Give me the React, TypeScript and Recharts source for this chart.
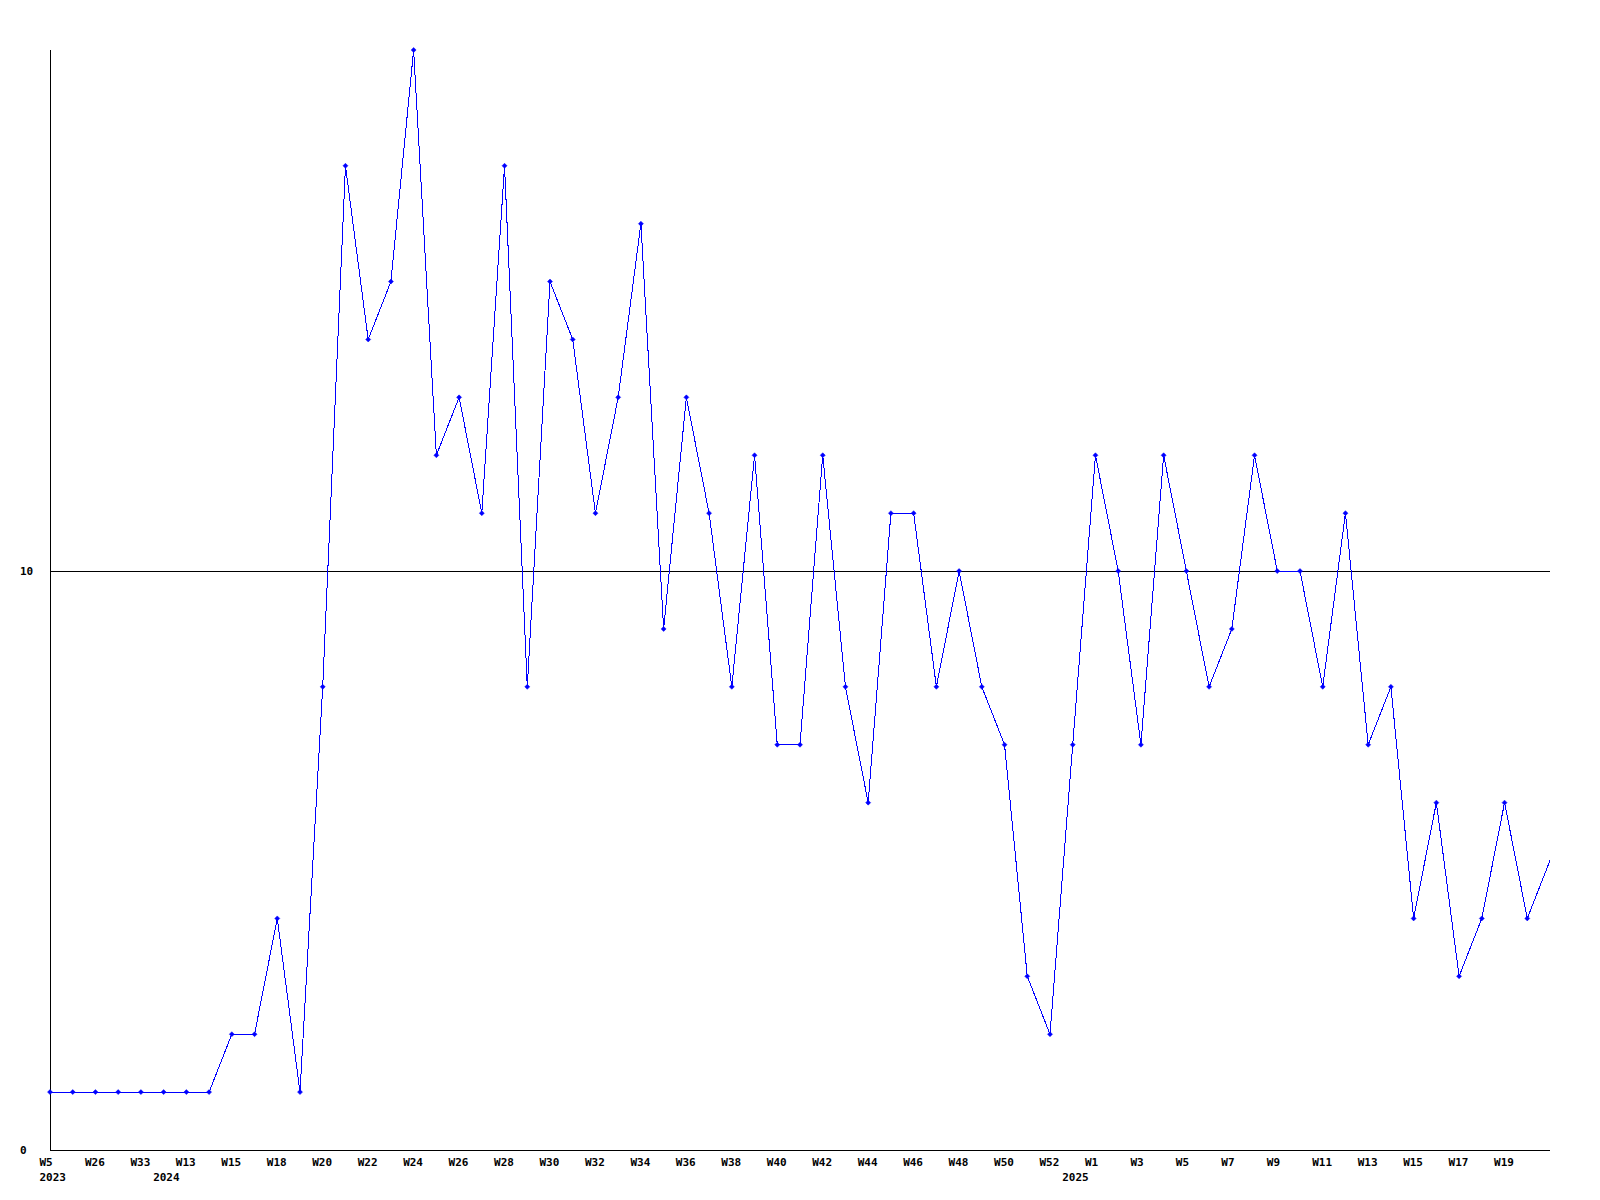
import React from 'react';
import { LineChart, Line, XAxis, YAxis, ReferenceLine } from 'recharts';

const weeks = [
  'W5', 'W20', 'W26', 'W30', 'W33', 'W1', 'W13', 'W14', 'W15', 'W16', 'W18', 'W19',
  'W20', 'W21', 'W22', 'W23', 'W24', 'W25', 'W26', 'W27', 'W28', 'W29', 'W30', 'W31',
  'W32', 'W33', 'W34', 'W35', 'W36', 'W37', 'W38', 'W39', 'W40', 'W41', 'W42', 'W43',
  'W44', 'W45', 'W46', 'W47', 'W48', 'W49', 'W50', 'W51', 'W52', 'W53', 'W1', 'W2',
  'W3', 'W4', 'W5', 'W6', 'W7', 'W8', 'W9', 'W10', 'W11', 'W12', 'W13', 'W14', 'W15',
  'W16', 'W17', 'W18', 'W19', 'W20', 'W21'
];

// year caption shown under the first week of each year
const years: Record<number, string> = { 0: '2023', 5: '2024', 45: '2025' };

const values = [
  1, 1, 1, 1, 1, 1, 1, 1, 2, 2, 4, 1, 8, 17, 14, 15, 19, 12, 13, 11,
  17, 8, 15, 14, 11, 13, 16, 9, 13, 11, 8, 12, 7, 7, 12, 8, 6, 11, 11, 8,
  10, 8, 7, 3, 2, 7, 12, 10, 7, 12, 10, 8, 9, 12, 10, 10, 8, 11, 7, 8,
  4, 6, 3, 4, 6, 4, 5
];

const yTicks = [0, 10];

const data = values.map((v, i) => ({ idx: i, value: v }));

const FONT = '"DejaVu Sans Mono", monospace';

const WeekTick = (props: any) => {
  const { x, y, payload } = props;
  const i = payload?.index ?? props.index;
  if (i === values.length - 1) return null;
  return (
    <g>
      {i % 2 === 0 && (
        <text x={x - 10.5} y={y + 16} fontFamily={FONT} fontWeight="bold" fontSize={11} fill="#000" textAnchor="start">
          {weeks[i]}
        </text>
      )}
      {years[i] && (
        <text x={x - 10.5} y={y + 31} fontFamily={FONT} fontWeight="bold" fontSize={11} fill="#000" textAnchor="start">
          {years[i]}
        </text>
      )}
    </g>
  );
};

const CountTick = (props: any) => {
  const { y, payload } = props;
  return (
    <text x={20} y={y + 4} fontFamily={FONT} fontWeight="bold" fontSize={11} fill="#000" textAnchor="start">
      {payload.value}
    </text>
  );
};

const Marker = (props: any) => {
  const { cx, cy, index } = props;
  if (index === values.length - 1 || cx == null) return null;
  return (
    <polygon
      key={`m-${index}`}
      points={`${cx},${cy - 2.5} ${cx + 2.5},${cy} ${cx},${cy + 2.5} ${cx - 2.5},${cy}`}
      fill="#0000ff"
      stroke="#0000ff"
      strokeWidth={0.5}
    />
  );
};

export default function App() {
  return (
    <div style={{ position: 'absolute', left: 0, top: 0, background: '#fff' }}>
      <LineChart width={1600} height={1200} data={data} margin={{ top: 50, right: 50, left: 0, bottom: 0 }}>
        <XAxis
          dataKey="idx"
          type="category"
          interval={0}
          height={50}
          tickSize={0}
          tickMargin={0}
          tickLine={false}
          axisLine={{ stroke: '#000', strokeWidth: 1, shapeRendering: 'crispEdges' }}
          tick={<WeekTick />}
        />
        <YAxis
          domain={[0, 19]}
          ticks={yTicks}
          width={50}
          tickSize={0}
          tickMargin={0}
          tickLine={false}
          axisLine={{ stroke: '#000', strokeWidth: 1, shapeRendering: 'crispEdges' }}
          tick={<CountTick />}
        />
        <ReferenceLine y={10} stroke="#000" strokeWidth={1} shapeRendering="crispEdges" />
        <Line
          type="linear"
          dataKey="value"
          stroke="#0000ff"
          strokeWidth={1}
          shapeRendering="crispEdges"
          dot={<Marker />}
          activeDot={false}
          isAnimationActive={false}
        />
      </LineChart>
    </div>
  );
}
